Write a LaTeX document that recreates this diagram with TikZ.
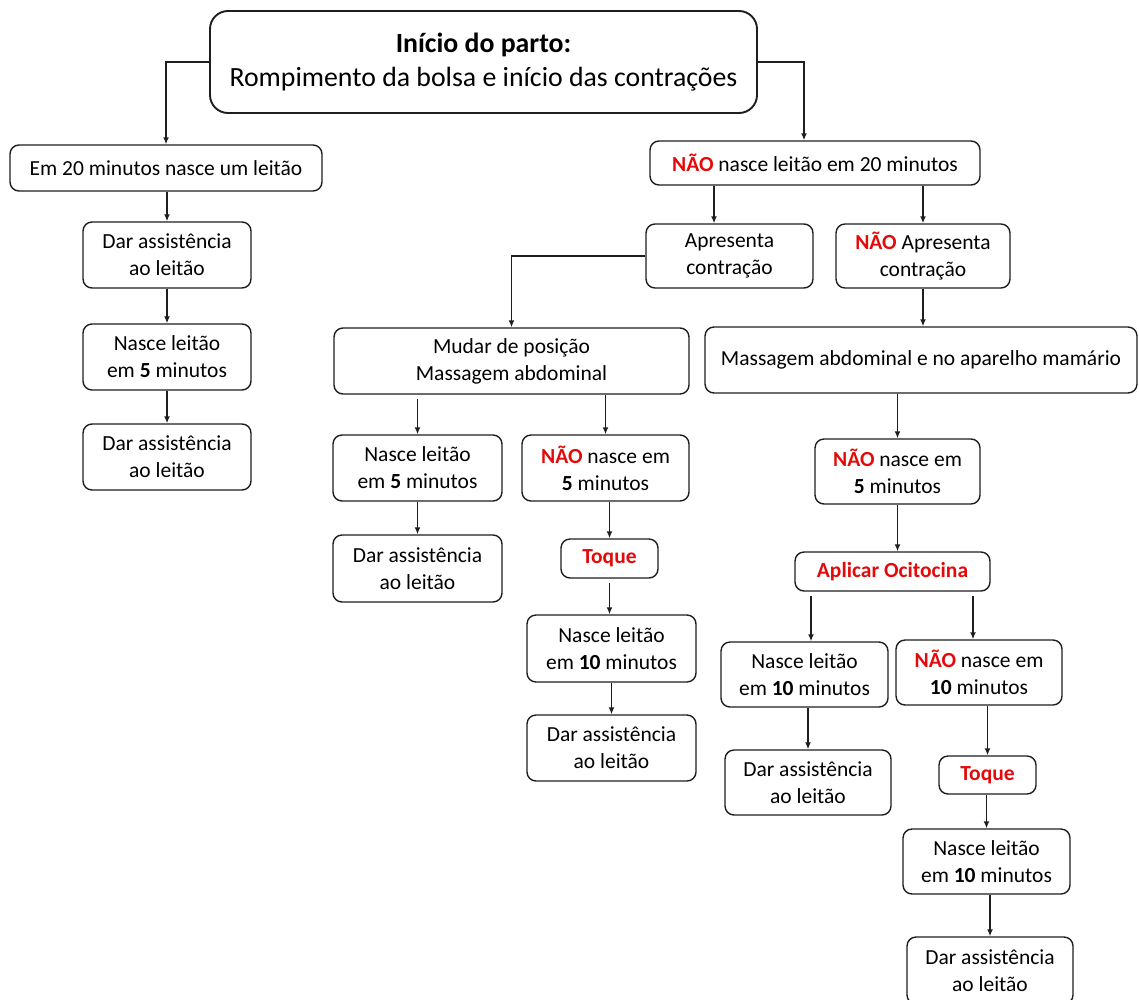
\documentclass[tikz,border=0pt]{standalone}
\usepackage{fontspec}
\setmainfont{Carlito}
\usetikzlibrary{arrows.meta}
\definecolor{nred}{RGB}{228,10,10}
\definecolor{edge}{RGB}{30,30,30}
\newcommand{\nao}{\textcolor{nred}{\textbf{NÃO}}}
\newcommand{\redb}[1]{\textcolor{nred}{\textbf{#1}}}

\begin{document}
\begin{tikzpicture}[x=1pt,y=-1pt,
  box/.style={draw=edge, line width=1.4pt, rounded corners=9pt, align=center,
    inner sep=0pt, font=\fontsize{21.5}{27}\selectfont, fill=white},
  arr/.style={draw=edge, line width=1.8pt, -{Latex[length=7pt,width=6pt]}},
]
\useasboundingbox (0,0) rectangle (1139,999);

% top of the chart
\node[box, minimum width=547pt, minimum height=102pt, rounded corners=18pt,
  line width=1.9pt, font=\fontsize{27.8}{34}\selectfont] (start) at (483.5,62)
  {\textbf{Início do parto:}\\Rompimento da bolsa e início das contrações};

% left branch
\node[box, minimum width=312pt, minimum height=46pt] (A) at (166,168)
  {Em 20 minutos nasce um leitão};
\node[box, minimum width=168pt, minimum height=66pt] (L1) at (167,255)
  {Dar assistência\\ao leitão};
\node[box, minimum width=168pt, minimum height=66pt] (L2) at (167,357)
  {Nasce leitão\\em \textbf{5} minutos};
\node[box, minimum width=168pt, minimum height=66pt] (L3) at (167,457)
  {Dar assistência\\ao leitão};

% right branch
\node[box, minimum width=330pt, minimum height=44pt] (B) at (815,163)
  {\nao{} nasce leitão em 20 minutos};
\node[box, minimum width=167pt, minimum height=64pt] (C1) at (729.5,256)
  {Apresenta\\contração};
\node[box, minimum width=174pt, minimum height=64pt] (C2) at (923,256)
  {\nao{} Apresenta\\contração};

% with contractions
\node[box, minimum width=355pt, minimum height=66pt] (D) at (511.5,361)
  {Mudar de posição\\Massagem abdominal};
\node[box, minimum width=169pt, minimum height=66pt] (M1) at (417.5,468)
  {Nasce leitão\\em \textbf{5} minutos};
\node[box, minimum width=167pt, minimum height=66pt] (M2) at (605.5,468)
  {\nao{} nasce em\\\textbf{5} minutos};
\node[box, minimum width=169pt, minimum height=67pt] (N1) at (417.5,568.5)
  {Dar assistência\\ao leitão};
\node[box, minimum width=97pt, minimum height=39pt] (T1) at (609.5,558.5)
  {\redb{Toque}};
\node[box, minimum width=169pt, minimum height=67pt] (P1) at (611.5,648.5)
  {Nasce leitão\\em \textbf{10} minutos};
\node[box, minimum width=169pt, minimum height=66pt] (Q1) at (611.5,748)
  {Dar assistência\\ao leitão};

% without contractions
\node[box, minimum width=432pt, minimum height=66pt] (E) at (921,360)
  {Massagem abdominal e no aparelho mamário};
\node[box, minimum width=165pt, minimum height=65pt] (F) at (897.5,471.5)
  {\nao{} nasce em\\\textbf{5} minutos};
\node[box, minimum width=195pt, minimum height=39pt] (G) at (892.5,571.5)
  {\redb{Aplicar Ocitocina}};
\node[box, minimum width=167pt, minimum height=65pt] (H1) at (804.5,674.5)
  {Nasce leitão\\em \textbf{10} minutos};
\node[box, minimum width=166pt, minimum height=65pt] (H2) at (979,672.5)
  {\nao{} nasce em\\\textbf{10} minutos};
\node[box, minimum width=166pt, minimum height=65pt] (I1) at (808,782.5)
  {Dar assistência\\ao leitão};
\node[box, minimum width=97pt, minimum height=38pt] (J) at (987.5,775)
  {\redb{Toque}};
\node[box, minimum width=167pt, minimum height=65pt] (K) at (986.5,861.5)
  {Nasce leitão\\em \textbf{10} minutos};
\node[box, minimum width=166pt, minimum height=67pt] (L) at (990,970.5)
  {Dar assistência\\ao leitão};

% entry points of offset connectors
\coordinate (Bin) at ([xshift=-11pt]B.north);
\coordinate (C1in) at ([xshift=-15.5pt]C1.north);
\coordinate (H1in) at ([xshift=6.5pt]H1.north);
\coordinate (H2in) at ([xshift=-6pt]H2.north);

% connectors
\draw[arr] (start.west) -| (A.north);
\draw[arr] (start.east) -| (Bin);
\draw[arr] (L1.north |- A.south) -- (L1.north);
\draw[arr] (L2.north |- L1.south) -- (L2.north);
\draw[arr] (L3.north |- L2.south) -- (L3.north);

\draw[arr] (C1in |- B.south) -- (C1in);
\draw[arr] (C2.north |- B.south) -- (C2.north);
\draw[arr] (C1.west) -| (D.north);
\draw[arr] (C2.south) -- (C2.south |- E.north);

\draw[arr, shorten <=4pt] (M1.north |- D.south) -- (M1.north);
\draw[arr] (M2.north |- D.south) -- (M2.north);
\draw[arr] (N1.north |- M1.south) -- (N1.north);
\draw[arr] (T1.north |- M2.south) -- (T1.north);
\draw[arr, shorten <=4pt] (T1.south) -- (T1.south |- P1.north);
\draw[arr] (Q1.north |- P1.south) -- (Q1.north);

\draw[arr] (F.north |- E.south) -- (F.north);
\draw[arr] (F.south) -- (F.south |- G.north);
\draw[arr, shorten <=4pt] (H1in |- G.south) -- (H1in);
\draw[arr, shorten <=4pt] (H2in |- G.south) -- (H2in);
\draw[arr] (I1.north |- H1.south) -- (I1.north);
\draw[arr] (J.north |- H2.south) -- (J.north);
\draw[arr] (K.north |- J.south) -- (K.north);
\draw[arr] (L.north |- K.south) -- (L.north);
\end{tikzpicture}
\end{document}
